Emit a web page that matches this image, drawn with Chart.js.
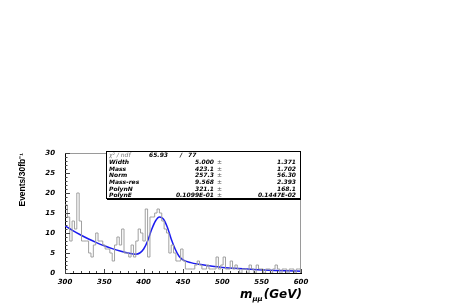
<!DOCTYPE html>
<html>
<head>
<meta charset="utf-8">
<script src="https://cdn.jsdelivr.net/npm/chart.js@4.4.1/dist/chart.umd.min.js"></script>
<style>
  html, body { margin: 0; padding: 0; background: #fff; }
  #wrap { width: 463px; height: 307px; }
</style>
</head>
<body>
<div id="wrap"><canvas id="massChart" width="463" height="307"></canvas></div>
<script>
// di-muon mass histogram, 300-600 GeV in 3 GeV bins
const histLow = 300;
const binWidth = 3;
const eventCounts = [
    17, 14, 8, 13, 11, 20, 13, 8, 8, 8,
    5, 4, 7, 10, 8, 8, 7, 6, 6, 5,
    3, 7, 9, 7, 11, 5, 5, 4, 7, 4,
    8, 11, 10, 8, 16, 4, 14, 14, 15, 16,
    15, 13, 11, 10, 5, 7, 5, 3, 3, 6,
    3, 1, 1, 1, 1, 2, 3, 2, 1, 1,
    2, 1, 1, 1, 4, 1, 2, 4, 1, 1,
    3, 1, 2, 1, 0, 1, 1, 0, 2, 1,
    0, 2, 1, 1, 0, 1, 1, 0, 1, 2,
    1, 0, 1, 1, 0, 1, 1, 0, 1, 1
];

// fit curve
const fitMass = [300, 310, 320, 330, 340, 350, 360, 370, 380, 390, 395, 400, 405, 410, 415, 420, 425, 430, 435, 440, 445, 450, 460, 470, 480, 490, 500, 520, 540, 560, 580, 600];
const fitEvents = [11.8, 10.6, 9.5, 8.5, 7.6, 6.8, 6.1, 5.5, 5.0, 4.7, 5.0, 6.0, 8.0, 10.8, 13.0, 14.0, 13.5, 11.5, 8.5, 6.0, 4.2, 3.3, 2.6, 2.2, 1.9, 1.6, 1.4, 1.1, 0.85, 0.7, 0.55, 0.45];

// stats box
const chi2 = '65.93';
const ndf = '77';
const parNames = ['Width', 'Mass', 'Norm', 'Mass-res', 'PolynN', 'PolynE'];
const parValues = ['5.000', '423.1', '257.3', '9.568', '321.1', '0.1099E-01'];
const parErrors = ['1.371', '1.702', '56.30', '2.393', '168.1', '0.1447E-02'];

const histPoints = eventCounts.map((n, i) => ({ x: histLow + i * binWidth, y: n }));
histPoints.push({ x: histLow + eventCounts.length * binWidth, y: eventCounts[eventCounts.length - 1] });

const fitPoints = fitMass.map((m, i) => ({ x: m, y: fitEvents[i] }));

const tickFont = { family: 'DejaVu Sans', size: 7, style: 'italic', weight: 'bold' };

const rootStyle = {
    id: 'rootStyle',
    afterDatasetsDraw(chart) {
        const { ctx, chartArea: a, scales: { x, y } } = chart;
        ctx.save();
        ctx.lineWidth = 1;
        ctx.strokeStyle = '#9a9a9a';
        ctx.beginPath();
        ctx.moveTo(a.left, a.top + 0.5);
        ctx.lineTo(a.right - 0.5, a.top + 0.5);
        ctx.lineTo(a.right - 0.5, a.bottom);
        ctx.stroke();

        ctx.strokeStyle = '#444';
        ctx.beginPath();
        y.ticks.forEach(t => {
            const py = Math.round(y.getPixelForValue(t.value)) + 0.5;
            const len = t.value % 5 === 0 ? 5 : 2.5;
            ctx.moveTo(a.left, py);
            ctx.lineTo(a.left + len, py);
        });
        x.ticks.forEach(t => {
            const px = Math.round(x.getPixelForValue(t.value)) + 0.5;
            const len = t.value % 50 === 0 ? 4 : 2;
            ctx.moveTo(px, a.bottom);
            ctx.lineTo(px, a.bottom - len);
        });
        ctx.stroke();
        ctx.restore();
    },
    afterDraw(chart) {
        const { ctx, chartArea: a } = chart;
        ctx.save();

        // x axis title  m_{mumu}(GeV)
        const big = 'italic bold 12px "DejaVu Sans"';
        const small = 'italic bold 7px "DejaVu Sans"';
        ctx.fillStyle = '#000';
        ctx.textBaseline = 'alphabetic';
        ctx.font = big;
        const wM = ctx.measureText('m').width;
        const wG = ctx.measureText('(GeV)').width;
        ctx.font = small;
        const wS = ctx.measureText('\u03bc\u03bc').width;
        let tx = a.right + 1 - (wM + wS + wG + 1);
        const ty = 298;
        ctx.font = big;
        ctx.fillText('m', tx, ty);
        tx += wM;
        ctx.font = small;
        ctx.fillText('\u03bc\u03bc', tx, ty + 3);
        tx += wS + 1;
        ctx.font = big;
        ctx.fillText('(GeV)', tx, ty);

        // stats box
        const bx = 106, by = a.top - 2, bw = a.right - bx, bh = 48;
        ctx.fillStyle = '#fff';
        ctx.fillRect(bx, by, bw, bh);
        ctx.strokeStyle = '#000';
        ctx.lineWidth = 1;
        ctx.strokeRect(bx + 0.5, by + 0.5, bw - 1, bh - 1);
        ctx.beginPath();
        ctx.moveTo(bx + 1, by + bh + 0.5);
        ctx.lineTo(bx + bw, by + bh + 0.5);
        ctx.stroke();

        const rowH = 6.67;
        const row0 = by + 4.8;
        const bold = 'italic bold 6px "DejaVu Sans"';
        ctx.textBaseline = 'middle';
        ctx.font = 'italic 6px "DejaVu Sans"';
        ctx.fillStyle = '#777';
        ctx.textAlign = 'left';
        ctx.fillText('\u03c7\u00b2 / ndf', bx + 3, row0);
        ctx.font = bold;
        ctx.fillStyle = '#000';
        ctx.textAlign = 'right';
        ctx.fillText(chi2, 168, row0);
        ctx.textAlign = 'center';
        ctx.fillText('/', 181, row0);
        ctx.textAlign = 'left';
        ctx.fillText(ndf, 188, row0);

        parNames.forEach((name, i) => {
            const ry = row0 + rowH * (i + 1);
            ctx.textAlign = 'left';
            ctx.fillText(name, bx + 3, ry);
            ctx.textAlign = 'right';
            ctx.fillText(parValues[i], 214, ry);
            ctx.fillText(parErrors[i], a.right - 5, ry);
            ctx.textAlign = 'left';
            ctx.font = '6px "DejaVu Sans"';
            ctx.fillStyle = '#555';
            ctx.fillText('\u00b1', 217, ry);
            ctx.fillStyle = '#000';
            ctx.font = bold;
        });
        ctx.restore();
    }
};

const ctx = document.getElementById('massChart').getContext('2d');
const chart = new Chart(ctx, {
    type: 'line',
    data: {
        datasets: [{
            label: 'data',
            data: histPoints,
            stepped: true,
            borderColor: '#a0a0a0',
            borderWidth: 1,
            pointRadius: 0,
            fill: false
        }, {
            label: 'fit',
            data: fitPoints,
            cubicInterpolationMode: 'monotone',
            borderColor: '#1c1cf0',
            borderWidth: 1.5,
            pointRadius: 0,
            fill: false
        }]
    },
    options: {
        responsive: false,
        devicePixelRatio: 1,
        animation: false,
        layout: {
            padding: { left: 0, right: 162, top: 153, bottom: 0 }
        },
        plugins: {
            legend: { display: false },
            tooltip: { enabled: false }
        },
        scales: {
            x: {
                type: 'linear',
                min: 300,
                max: 600,
                afterFit: function(scale) { scale.height = 34; },
                grid: { display: false, drawTicks: false },
                border: { display: true, color: '#000', width: 1 },
                ticks: {
                    stepSize: 10,
                    autoSkip: false,
                    maxRotation: 0,
                    padding: 5,
                    color: '#000',
                    font: tickFont,
                    callback: function(v) { return v % 50 === 0 ? String(v) : ''; }
                }
            },
            y: {
                type: 'linear',
                min: 0,
                max: 30,
                afterFit: function(scale) { scale.width = 65; },
                grid: { display: false, drawTicks: false },
                border: { display: true, color: '#000', width: 1 },
                ticks: {
                    stepSize: 1,
                    autoSkip: false,
                    padding: 10,
                    color: '#000',
                    font: tickFont,
                    callback: function(v) { return v % 5 === 0 ? String(v) : ''; }
                },
                title: {
                    display: true,
                    align: 'end',
                    text: 'Events/30fb\u207b\u00b9',
                    color: '#000',
                    padding: { top: 18, bottom: 0 },
                    font: { family: '"Liberation Sans"', size: 8.5, weight: 'bold' }
                }
            }
        }
    },
    plugins: [rootStyle]
});
</script>
</body>
</html>
